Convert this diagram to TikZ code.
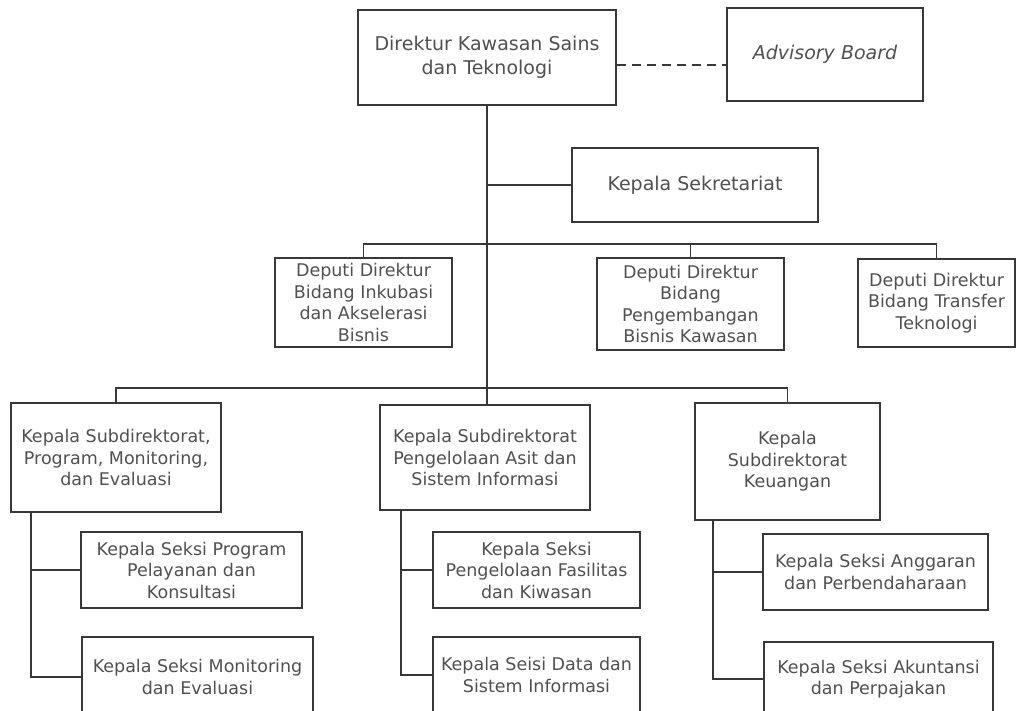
\documentclass[tikz,border=0pt]{standalone}
\usepackage{fontspec}
\setmainfont{DejaVu Sans}
\usepackage{tikz}
\usetikzlibrary{arrows,shapes}
\definecolor{txtgray}{HTML}{505050}
\definecolor{linegray}{HTML}{383838}
\tikzstyle{big box}=[rectangle,draw=linegray,line width=2.2pt,text=txtgray,align=center,inner sep=2pt,font=\fontsize{19}{24}\selectfont]
\tikzstyle{box}=[rectangle,draw=linegray,line width=2.2pt,text=txtgray,align=center,inner sep=2pt,font=\fontsize{17.5}{21.5}\selectfont]
\tikzstyle{edge} = [draw=linegray,line width=1.8pt,-]
\tikzstyle{dash edge} = [draw=linegray,line width=1.6pt,dash pattern=on 9pt off 6pt,-]

\begin{document}
\begin{tikzpicture}[x=1pt,y=-1pt]
        \useasboundingbox (0,0) rectangle (1017,711);
        \clip (0,0) rectangle (1017,711);
        % top level
        \node[big box,minimum width=258,minimum height=95] (dir) at (487,57.5) {Direktur Kawasan Sains\\dan Teknologi};
        \node[big box,minimum width=196,minimum height=93] (adv) at (825,54.5) {\itshape Advisory Board};
        \node[big box,minimum width=246,minimum height=74] (sek) at (695,185) {Kepala Sekretariat};
        % deputi
        \node[box,minimum width=177,minimum height=89] (dep1) at (363.5,302.5) {Deputi Direktur\\Bidang Inkubasi\\dan Akselerasi\\Bisnis};
        \node[box,minimum width=187,minimum height=92] (dep2) at (690.5,304) {Deputi Direktur\\Bidang\\Pengembangan\\Bisnis Kawasan};
        \node[box,minimum width=157,minimum height=88] (dep3) at (936.5,303) {Deputi Direktur\\Bidang Transfer\\Teknologi};
        % subdirektorat
        \node[box,minimum width=210,minimum height=109] (sub1) at (116,457.5) {Kepala Subdirektorat,\\Program, Monitoring,\\dan Evaluasi};
        \node[box,minimum width=210,minimum height=105] (sub2) at (485,457.5) {Kepala Subdirektorat\\Pengelolaan Asit dan\\Sistem Informasi};
        \node[box,minimum width=185,minimum height=117] (sub3) at (787.5,461.5) {Kepala\\Subdirektorat\\Keuangan};
        % seksi
        \node[box,minimum width=221,minimum height=76] (sek1) at (191.5,570) {Kepala Seksi Program\\Pelayanan dan\\Konsultasi};
        \node[box,minimum width=231,minimum height=80] (sek2) at (197.5,677) {Kepala Seksi Monitoring\\dan Evaluasi};
        \node[box,minimum width=207,minimum height=76] (sek3) at (536.5,570) {Kepala Seksi\\Pengelolaan Fasilitas\\dan Kiwasan};
        \node[box,minimum width=207,minimum height=76] (sek4) at (536.5,675) {Kepala Seisi Data dan\\Sistem Informasi};
        \node[box,minimum width=225,minimum height=76] (sek5) at (875.5,572) {Kepala Seksi Anggaran\\dan Perbendaharaan};
        \node[box,minimum width=229,minimum height=74] (sek6) at (878.5,679) {Kepala Seksi Akuntansi\\dan Perpajakan};
        \coordinate (bus1) at (487,244);
        \coordinate (bus2) at (487,388);
        \draw[dash edge] ([yshift=-7.5pt]dir.east) -- ([yshift=-7.5pt]dir.east -| adv.west);
        \draw[edge] (dir.south) -- (dir.south |- sub2.north);
        \draw[edge] (sek.west) -- (sek.west -| dir.south);
        \draw[edge] (dep1.north) |- (dep3.north |- bus1) -- (dep3.north);
        \draw[edge] (dep2.north) -- (dep2.north |- bus1);
        \draw[edge] (sub1.north) |- (sub3.north |- bus2) -- (sub3.north);
        \draw[edge] (sek1.west) -| ([xshift=21pt]sub1.south west);
        \draw[edge] (sek2.west) -| ([xshift=21pt]sub1.south west);
        \draw[edge] (sek3.west) -| ([xshift=22pt]sub2.south west);
        \draw[edge] (sek4.west) -| ([xshift=22pt]sub2.south west);
        \draw[edge] (sek5.west) -| ([xshift=19pt]sub3.south west);
        \draw[edge] (sek6.west) -| ([xshift=19pt]sub3.south west);
      \end{tikzpicture}
\end{document}
